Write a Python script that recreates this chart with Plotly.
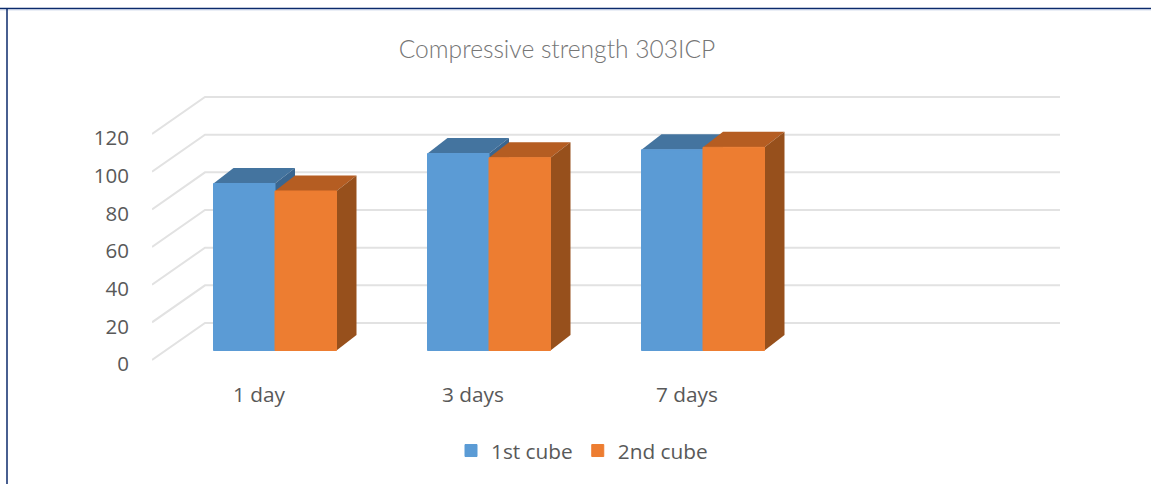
import plotly.graph_objects as go

# ---- data ----
categories = ["1 day", "3 days", "7 days"]
first_cube = [88.7, 104.6, 106.6]
second_cube = [84.7, 102.4, 107.9]
y_ticks = [0, 20, 40, 60, 80, 100, 120]
series_names = ["1st cube", "2nd cube"]
title_text = "Compressive strength 303ICP"

# ---- canvas and scale settings ----
W, H = 1151, 484
L, R, T, B = 152, 91, 90, 116          # plot-area margins
PW, PH = W - L - R, H - T - B
BOTTOM_PX = H - B
CAT_PX = 214.0                         # pixels per category
VAL_PX = 1.883                         # pixels per value unit
LABEL_ZERO_PX = 364.0                  # where tick "0" sits
FRONT_ZERO_PX = 360.0                  # front corner of the floor
BAR_ZERO_PX = 350.5                    # foot of the boxes
BAR_SHIFT_X = 16 / CAT_PX              # boxes stand inside the floor depth
WALL_DX, WALL_DY = 53 / CAT_PX, 37 / VAL_PX   # front plane -> back wall
DEPTH_DX, DEPTH_DY = 20 / CAT_PX, 15.5 / VAL_PX  # box depth
BAR_W = 61.5 / CAT_PX
GRID_LIFT = (LABEL_ZERO_PX - FRONT_ZERO_PX) / VAL_PX

x_lo = -0.5
x_hi = x_lo + PW / CAT_PX
y_lo = -(BOTTOM_PX - LABEL_ZERO_PX) / VAL_PX
y_hi = y_lo + PH / VAL_PX
by_lo = -(BOTTOM_PX - BAR_ZERO_PX) / VAL_PX
by_hi = by_lo + PH / VAL_PX

COL_FRONT = ["#5B9BD5", "#ED7D31"]
COL_TOP = ["#44749F", "#B55D22"]
COL_SIDE = ["#3A6690", "#97501C"]
GRID = "#E2E2E2"
TEXT = "#595959"

fig = go.Figure()

# back wall + side wall grid lines
for v in y_ticks:
    fig.add_trace(go.Scatter(
        x=[x_lo, x_lo + WALL_DX, x_hi],
        y=[v + GRID_LIFT, v + GRID_LIFT + WALL_DY, v + GRID_LIFT + WALL_DY],
        mode="lines", line=dict(color=GRID, width=2), showlegend=False,
        hoverinfo="skip", xaxis="x", yaxis="y"))

# the top and side faces of every box
for s, vals in enumerate([first_cube, second_cube]):
    for i, v in enumerate(vals):
        x0 = i + (s - 1) * BAR_W
        x1 = x0 + BAR_W
        fig.add_trace(go.Scatter(
            x=[x0, x1, x1 + DEPTH_DX, x0 + DEPTH_DX, x0],
            y=[v, v, v + DEPTH_DY, v + DEPTH_DY, v],
            mode="lines", line=dict(width=0), fill="toself",
            fillcolor=COL_TOP[s], showlegend=False, hoverinfo="skip",
            xaxis="x2", yaxis="y2"))
        fig.add_trace(go.Scatter(
            x=[x1, x1 + DEPTH_DX, x1 + DEPTH_DX, x1, x1],
            y=[0, DEPTH_DY, v + DEPTH_DY, v, 0],
            mode="lines", line=dict(width=0), fill="toself",
            fillcolor=COL_SIDE[s], showlegend=False, hoverinfo="skip",
            xaxis="x2", yaxis="y2"))

# the front faces, which also feed the legend
for s, vals in enumerate([first_cube, second_cube]):
    fig.add_trace(go.Bar(
        x=list(range(len(categories))), y=vals, name=series_names[s],
        width=BAR_W, offset=(s - 1) * BAR_W,
        marker=dict(color=COL_FRONT[s], line=dict(color=COL_FRONT[s], width=1)),
        xaxis="x3", yaxis="y3"))

hidden = dict(visible=False, fixedrange=True)
fig.update_layout(
    width=W, height=H,
    margin=dict(l=L, r=R, t=T, b=B, autoexpand=False),
    paper_bgcolor="white", plot_bgcolor="white",
    font=dict(family="Open Sans", size=20, color=TEXT),
    barmode="overlay",
    title=dict(text=title_text, x=557 / W, y=1 - 49 / H, xanchor="center",
               yanchor="middle", xref="container", yref="container",
               font=dict(family="Lato", size=24.6, color="#767676", weight=300)),
    xaxis=dict(range=[x_lo, x_hi], tickvals=list(range(len(categories))),
               ticktext=categories, showgrid=False, zeroline=False, showline=False,
               ticks="", ticklabelstandoff=12, fixedrange=True,
               tickfont=dict(family="Open Sans", size=20.8, color=TEXT)),
    yaxis=dict(range=[y_lo, y_hi], tickvals=y_ticks, showgrid=False,
               zeroline=False, showline=False, ticks="",
               ticklabelstandoff=22, fixedrange=True,
               tickfont=dict(family="Open Sans", size=20.5, color=TEXT)),
    xaxis2=dict(range=[x_lo - BAR_SHIFT_X, x_hi - BAR_SHIFT_X], overlaying="x", **hidden),
    yaxis2=dict(range=[by_lo, by_hi], overlaying="y", **hidden),
    xaxis3=dict(range=[x_lo - BAR_SHIFT_X, x_hi - BAR_SHIFT_X], overlaying="x", **hidden),
    yaxis3=dict(range=[by_lo, by_hi], overlaying="y", **hidden),
    legend=dict(orientation="h", xref="container", yref="container",
                x=451 / W, y=1 - 451 / H, xanchor="left", yanchor="middle",
                font=dict(family="Open Sans", size=20.8, color=TEXT),
                bgcolor="rgba(0,0,0,0)"),
    shapes=[
        dict(type="line", xref="paper", yref="paper",
             x0=-L / PW, x1=(W - L) / PW, y0=(H - B - 8.5) / PH, y1=(H - B - 8.5) / PH,
             line=dict(color="#0B2A6B", width=1.5)),
        dict(type="line", xref="paper", yref="paper",
             x0=-L / PW, x1=(W - L) / PW, y0=(H - B - 9.8) / PH, y1=(H - B - 9.8) / PH,
             line=dict(color="#B9C7E0", width=1)),
        dict(type="line", xref="paper", yref="paper",
             x0=(7 - L) / PW, x1=(7 - L) / PW, y0=-B / PH, y1=(H - B - 8.5) / PH,
             line=dict(color="#0B2A6B", width=1.5)),
    ],
)

# the page's default body margin would push the chart 8px off its place
fig.write_html("out.html", config=dict(displayModeBar=False),
               post_script="document.body.style.margin='0';")
